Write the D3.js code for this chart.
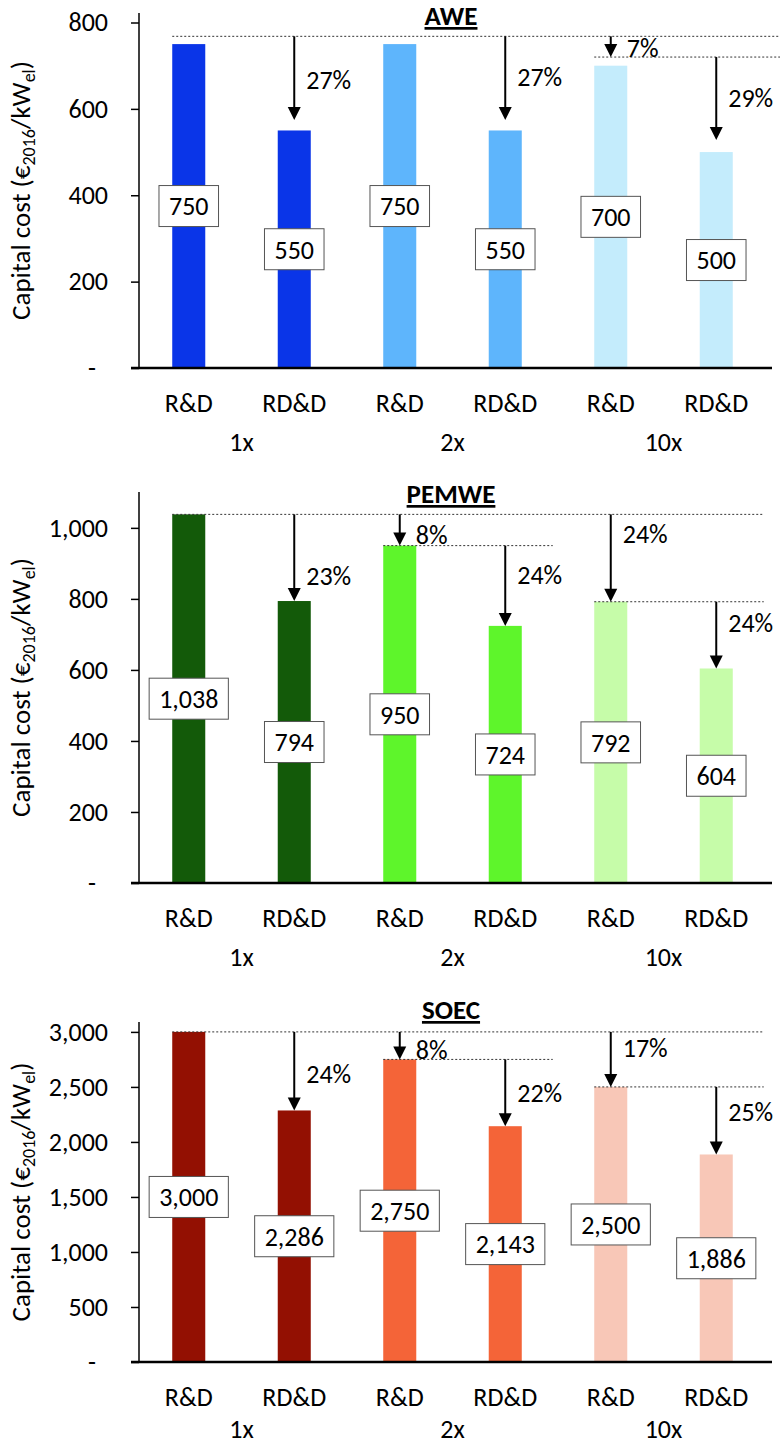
<!DOCTYPE html>
<html>
<head>
<meta charset="utf-8">
<script src="https://cdn.jsdelivr.net/npm/d3@7"></script>
<style>
  body { margin: 0; background: #fff; }
  svg { display: block; font-family: Carlito, Lato, sans-serif; }
</style>
</head>
<body>
<div id="chart"></div>
<script>
// bar categories (funding scenario x stage)
var stages = ["R&D", "RD&D", "R&D", "RD&D", "R&D", "RD&D"];
var scenarios = ["1x", "2x", "10x"];

// capital cost values, EUR2016 per kWel
var aweCost = [750, 550, 750, 550, 700, 500];
var pemweCost = [1038, 794, 950, 724, 792, 604];
var soecCost = [3000, 2286, 2750, 2143, 2500, 1886];

var aweTicks = [0, 200, 400, 600, 800];
var pemweTicks = [0, 200, 400, 600, 800, 1000];
var soecTicks = [0, 500, 1000, 1500, 2000, 2500, 3000];

// dashed reference levels: value, first bar, last bar (6 = runs to edge)
var aweRefs = [{value: 768, from: 0, to: 6}, {value: 720, from: 4, to: 6}];
var pemweRefs = [{value: 1038, from: 0, to: 5}, {value: 950, from: 2, to: 3}, {value: 792, from: 4, to: 5}];
var soecRefs = [{value: 3000, from: 0, to: 5}, {value: 2750, from: 2, to: 3}, {value: 2500, from: 4, to: 5}];

// reduction arrows: bar, start value, end value, label, label height (value)
var aweArrows = [
  {bar: 1, from: 768, to: 574, label: "27%", at: 667},
  {bar: 3, from: 768, to: 574, label: "27%", at: 674},
  {bar: 4, from: 768, to: 720, label: "7%", at: 741},
  {bar: 5, from: 720, to: 528, label: "29%", at: 627}
];
var pemweArrows = [
  {bar: 1, from: 1038, to: 794, label: "23%", at: 866},
  {bar: 2, from: 1038, to: 950, label: "8%", at: 982},
  {bar: 3, from: 950, to: 724, label: "24%", at: 869},
  {bar: 4, from: 1038, to: 792, label: "24%", at: 985},
  {bar: 5, from: 792, to: 604, label: "24%", at: 734}
];
var soecArrows = [
  {bar: 1, from: 3000, to: 2286, label: "24%", at: 2618},
  {bar: 2, from: 3000, to: 2750, label: "8%", at: 2836},
  {bar: 3, from: 2750, to: 2143, label: "22%", at: 2445},
  {bar: 4, from: 3000, to: 2500, label: "17%", at: 2855},
  {bar: 5, from: 2500, to: 1886, label: "25%", at: 2273}
];

var panels = [
  {title: "AWE", values: aweCost, ticks: aweTicks, refs: aweRefs, arrows: aweArrows,
   colors: ["#0a35e8", "#5eb5fc", "#c4ecfc"], yMax: 822, top: 13, bottom: 368, titleY: 25},
  {title: "PEMWE", values: pemweCost, ticks: pemweTicks, refs: pemweRefs, arrows: pemweArrows,
   colors: ["#135a09", "#5ef52b", "#c6fca9"], yMax: 1101, top: 492, bottom: 883, titleY: 503},
  {title: "SOEC", values: soecCost, ticks: soecTicks, refs: soecRefs, arrows: soecArrows,
   colors: ["#931002", "#f46438", "#f8c7b7"], yMax: 3090, top: 1022, bottom: 1362, titleY: 1019}
];

var width = 780, height = 1446;
var fontSize = 26;
var fmt = d3.format(",");

var svg = d3.select("#chart").append("svg")
  .attr("width", width)
  .attr("height", height);

var x = d3.scaleBand()
  .domain(d3.range(stages.length))
  .range([136, 769])
  .paddingInner(0.687)
  .paddingOuter(0.3435);

var axisX = 139;

panels.forEach(function(p) {
  var g = svg.append("g");
  var y = d3.scaleLinear()
    .domain([0, p.yMax])
    .range([p.bottom, p.top]);
  var colorOf = function(i) { return p.colors[Math.floor(i / 2)]; };
  var cx = function(i) { return x(i) + x.bandwidth() / 2; };

  // bars
  g.selectAll(".bar")
    .data(p.values)
    .enter()
    .append("rect")
    .attr("class", "bar")
    .attr("x", function(d, i) { return x(i); })
    .attr("y", function(d) { return y(d); })
    .attr("width", x.bandwidth())
    .attr("height", function(d) { return y(0) - y(d); })
    .attr("fill", function(d, i) { return colorOf(i); });

  // y axis
  var yAxis = d3.axisLeft(y)
    .tickValues(p.ticks)
    .tickSize(8)
    .tickSizeOuter(0)
    .tickPadding(23)
    .tickFormat(function(d) { return d === 0 ? "-" : fmt(d); });
  var ya = g.append("g")
    .attr("transform", "translate(" + axisX + ",0)")
    .call(yAxis);
  ya.select(".domain").remove();
  ya.selectAll(".tick line").attr("stroke", "#000").attr("stroke-width", 1.5);
  ya.selectAll(".tick text")
    .attr("font-size", fontSize)
    .attr("font-family", "Carlito, Lato, sans-serif")
    .attr("fill", "#000")
    .attr("dx", function(d) { return d === 0 ? -12 : 0; });
  g.append("line")
    .attr("x1", axisX).attr("x2", axisX)
    .attr("y1", p.top).attr("y2", p.bottom)
    .attr("stroke", "#000").attr("stroke-width", 1.5);

  // x axis
  var xAxis = d3.axisBottom(x)
    .tickSize(0)
    .tickPadding(26)
    .tickFormat(function(i) { return stages[i]; });
  var xa = g.append("g")
    .attr("transform", "translate(0," + p.bottom + ")")
    .call(xAxis);
  xa.select(".domain").remove();
  xa.selectAll(".tick text")
    .attr("font-size", fontSize)
    .attr("font-family", "Carlito, Lato, sans-serif")
    .attr("fill", "#000");
  g.append("line")
    .attr("x1", 131).attr("x2", 772)
    .attr("y1", p.bottom).attr("y2", p.bottom)
    .attr("stroke", "#000").attr("stroke-width", 2.5);

  g.selectAll(".scen")
    .data(scenarios)
    .enter()
    .append("text")
    .attr("class", "scen")
    .attr("x", function(d, i) { return (cx(2 * i) + cx(2 * i + 1)) / 2; })
    .attr("y", Math.min(p.bottom + 83, height - 8))
    .attr("text-anchor", "middle")
    .attr("font-size", fontSize)
    .text(function(d) { return d; });

  // dashed reference levels
  g.selectAll(".ref")
    .data(p.refs)
    .enter()
    .append("line")
    .attr("class", "ref")
    .attr("x1", function(d) { return x(d.from); })
    .attr("x2", function(d) { return d.to >= stages.length ? width : cx(d.to) + x.step() * 0.45; })
    .attr("y1", function(d) { return y(d.value); })
    .attr("y2", function(d) { return y(d.value); })
    .attr("stroke", "#333")
    .attr("stroke-width", 1)
    .attr("stroke-dasharray", "2,2");

  // arrows
  var arr = g.selectAll(".arrow")
    .data(p.arrows)
    .enter()
    .append("g")
    .attr("class", "arrow");
  arr.append("line")
    .attr("x1", function(d) { return cx(d.bar); })
    .attr("x2", function(d) { return cx(d.bar); })
    .attr("y1", function(d) { return y(d.from); })
    .attr("y2", function(d) { return y(d.to) - 10; })
    .attr("stroke", "#000")
    .attr("stroke-width", 2);
  arr.append("path")
    .attr("d", function(d) {
      var ax = cx(d.bar), ay = y(d.to);
      return "M" + (ax - 6.5) + "," + (ay - 13) + "L" + (ax + 6.5) + "," + (ay - 13) + "L" + ax + "," + ay + "Z";
    })
    .attr("fill", "#000");
  arr.append("text")
    .attr("x", function(d) { return cx(d.bar) + (d.from - d.to < 0.1 * p.yMax ? 16 : 12); })
    .attr("y", function(d) { return y(d.at); })
    .attr("dy", "0.36em")
    .attr("font-size", fontSize)
    .text(function(d) { return d.label; });

  // value boxes at mid-height of each bar
  var lab = g.selectAll(".vlab")
    .data(p.values)
    .enter()
    .append("g")
    .attr("class", "vlab")
    .attr("transform", function(d, i) { return "translate(" + cx(i) + "," + y(d / 2) + ")"; });
  lab.append("text")
    .attr("text-anchor", "middle")
    .attr("dy", "0.36em")
    .attr("font-size", fontSize)
    .text(function(d) { return fmt(d); });
  lab.each(function() {
    var t = d3.select(this).select("text");
    var w = t.node().getComputedTextLength() + 20;
    d3.select(this).insert("rect", "text")
      .attr("x", -w / 2)
      .attr("y", -20.5)
      .attr("width", w)
      .attr("height", 41)
      .attr("fill", "#fff")
      .attr("stroke", "#555")
      .attr("stroke-width", 1);
  });

  // title
  g.append("text")
    .attr("x", 451)
    .attr("y", p.titleY)
    .attr("text-anchor", "middle")
    .attr("font-size", 27)
    .attr("font-weight", "bold")
    .style("text-decoration", "underline")
    .text(p.title);

  // y axis label
  var yl = g.append("text")
    .attr("transform", "translate(30," + ((p.top + p.bottom) / 2) + ") rotate(-90)")
    .attr("text-anchor", "middle")
    .attr("font-size", 27);
  yl.append("tspan").text("Capital cost (€");
  yl.append("tspan").attr("font-size", 18).attr("dy", 5).text("2016");
  yl.append("tspan").attr("dy", -5).text("/kW");
  yl.append("tspan").attr("font-size", 18).attr("dy", 5).text("el");
  yl.append("tspan").attr("dy", -5).text(")");
});
</script>
</body>
</html>
